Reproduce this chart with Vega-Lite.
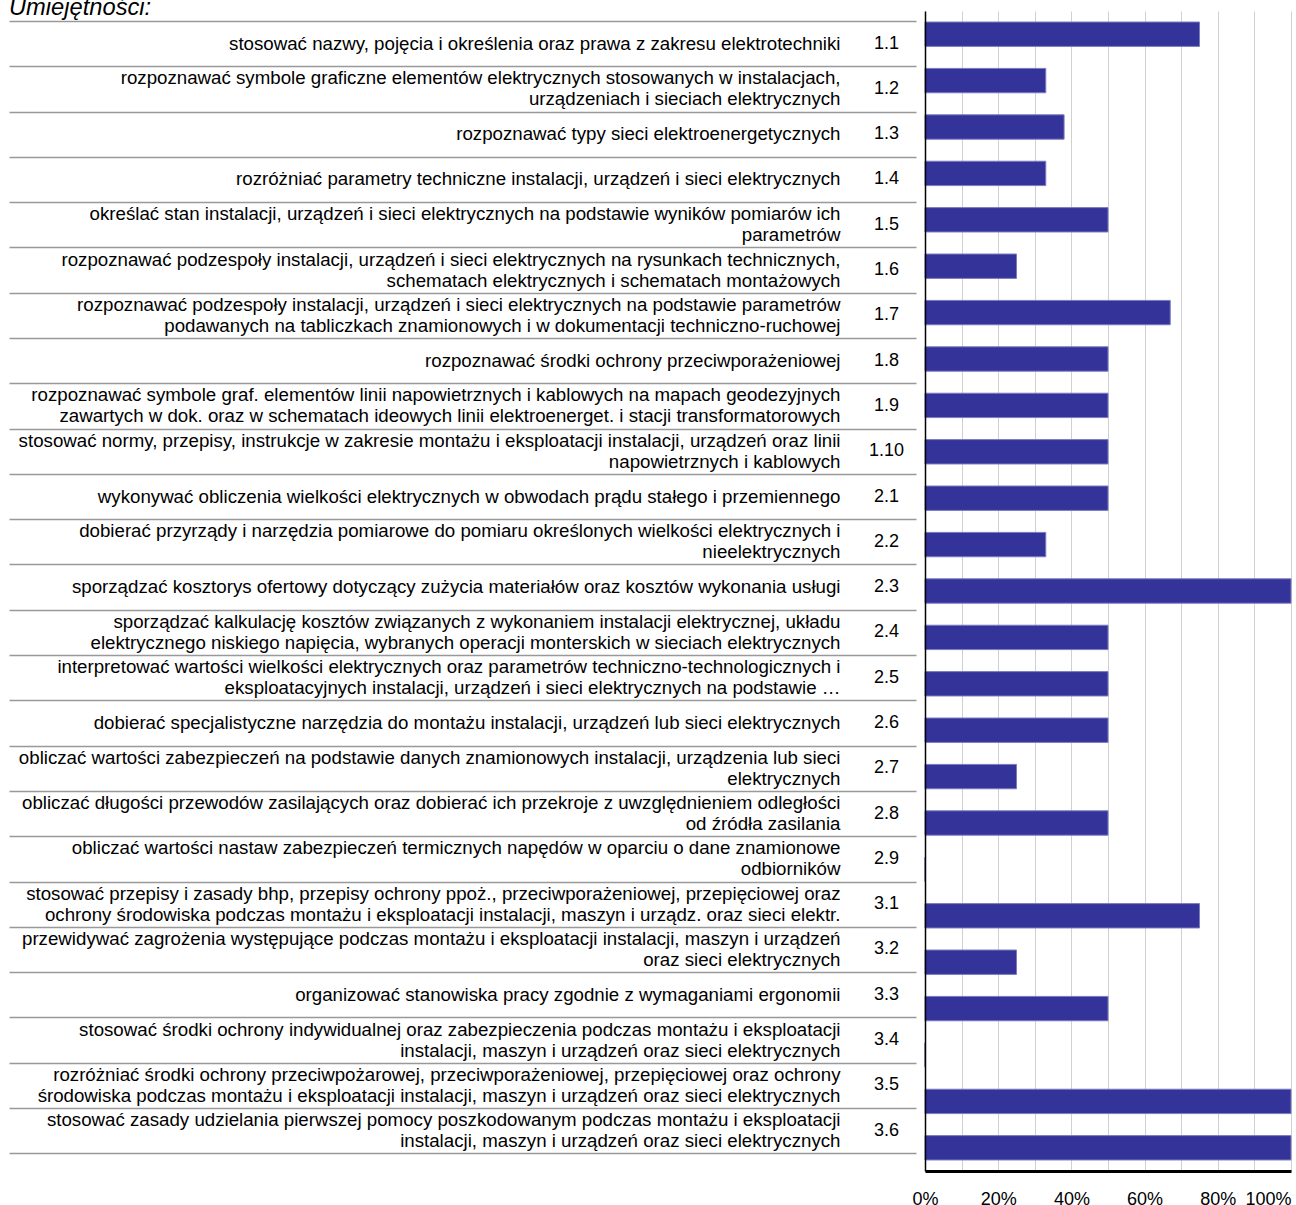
{
  "$schema": "https://vega.github.io/schema/vega-lite/v6.json",
  "autosize": {"type": "none"},
  "width": 366,
  "height": 1160,
  "padding": {"left": 925, "top": 11, "right": 5, "bottom": 34},
  "background": "white",
  "title": {"text": "Umiejętności:", "anchor": "start", "frame": "group", "dx": -916, "orient": "top", "font": "Liberation Sans", "fontSize": 23.7, "fontStyle": "italic", "fontWeight": "normal", "color": "#000000", "baseline": "alphabetic", "offset": -28},
  "data": {"values": [
    {"kod": "1.1", "opis": "stosować nazwy, pojęcia i określenia oraz prawa z zakresu elektrotechniki", "wartosc": 0.75},
    {"kod": "1.2", "opis": "rozpoznawać symbole graficzne elementów elektrycznych stosowanych w instalacjach,\nurządzeniach i sieciach elektrycznych", "wartosc": 0.33},
    {"kod": "1.3", "opis": "rozpoznawać typy sieci elektroenergetycznych", "wartosc": 0.38},
    {"kod": "1.4", "opis": "rozróżniać parametry techniczne instalacji, urządzeń i sieci elektrycznych", "wartosc": 0.33},
    {"kod": "1.5", "opis": "określać stan instalacji, urządzeń i sieci elektrycznych na podstawie wyników pomiarów ich\nparametrów", "wartosc": 0.5},
    {"kod": "1.6", "opis": "rozpoznawać podzespoły instalacji, urządzeń i sieci elektrycznych na rysunkach technicznych,\nschematach elektrycznych i schematach montażowych", "wartosc": 0.25},
    {"kod": "1.7", "opis": "rozpoznawać podzespoły instalacji, urządzeń i sieci elektrycznych na podstawie parametrów\npodawanych na tabliczkach znamionowych i w dokumentacji techniczno-ruchowej", "wartosc": 0.67},
    {"kod": "1.8", "opis": "rozpoznawać środki ochrony przeciwporażeniowej", "wartosc": 0.5},
    {"kod": "1.9", "opis": "rozpoznawać symbole graf. elementów linii napowietrznych i kablowych na mapach geodezyjnych\nzawartych w dok. oraz w schematach ideowych linii elektroenerget. i stacji transformatorowych", "wartosc": 0.5},
    {"kod": "1.10", "opis": "stosować normy, przepisy, instrukcje w zakresie montażu i eksploatacji instalacji, urządzeń oraz linii\nnapowietrznych i kablowych", "wartosc": 0.5},
    {"kod": "2.1", "opis": "wykonywać obliczenia wielkości elektrycznych w obwodach prądu stałego i przemiennego", "wartosc": 0.5},
    {"kod": "2.2", "opis": "dobierać przyrządy i narzędzia pomiarowe do pomiaru określonych wielkości elektrycznych i\nnieelektrycznych", "wartosc": 0.33},
    {"kod": "2.3", "opis": "sporządzać kosztorys ofertowy dotyczący zużycia materiałów oraz kosztów wykonania usługi", "wartosc": 1.0},
    {"kod": "2.4", "opis": "sporządzać kalkulację kosztów związanych z wykonaniem instalacji elektrycznej, układu\nelektrycznego niskiego napięcia, wybranych operacji monterskich w sieciach elektrycznych", "wartosc": 0.5},
    {"kod": "2.5", "opis": "interpretować wartości wielkości elektrycznych oraz parametrów techniczno-technologicznych i\neksploatacyjnych instalacji, urządzeń i sieci elektrycznych na podstawie …", "wartosc": 0.5},
    {"kod": "2.6", "opis": "dobierać specjalistyczne narzędzia do montażu instalacji, urządzeń lub sieci elektrycznych", "wartosc": 0.5},
    {"kod": "2.7", "opis": "obliczać wartości zabezpieczeń na podstawie danych znamionowych instalacji, urządzenia lub sieci\nelektrycznych", "wartosc": 0.25},
    {"kod": "2.8", "opis": "obliczać długości przewodów zasilających oraz dobierać ich przekroje z uwzględnieniem odległości\nod źródła zasilania", "wartosc": 0.5},
    {"kod": "2.9", "opis": "obliczać wartości nastaw zabezpieczeń termicznych napędów w oparciu o dane znamionowe\nodbiorników", "wartosc": 0},
    {"kod": "3.1", "opis": "stosować przepisy i zasady bhp, przepisy ochrony ppoż., przeciwporażeniowej, przepięciowej oraz\nochrony środowiska podczas montażu i eksploatacji instalacji, maszyn i urządz. oraz sieci elektr.", "wartosc": 0.75},
    {"kod": "3.2", "opis": "przewidywać zagrożenia występujące podczas montażu i eksploatacji instalacji, maszyn i urządzeń\noraz sieci elektrycznych", "wartosc": 0.25},
    {"kod": "3.3", "opis": "organizować stanowiska pracy zgodnie z wymaganiami ergonomii", "wartosc": 0.5},
    {"kod": "3.4", "opis": "stosować środki ochrony indywidualnej oraz zabezpieczenia podczas montażu i eksploatacji\ninstalacji, maszyn i urządzeń oraz sieci elektrycznych", "wartosc": 0},
    {"kod": "3.5", "opis": "rozróżniać środki ochrony przeciwpożarowej, przeciwporażeniowej, przepięciowej oraz ochrony\nśrodowiska podczas montażu i eksploatacji instalacji, maszyn i urządzeń oraz sieci elektrycznych", "wartosc": 1.0},
    {"kod": "3.6", "opis": "stosować zasady udzielania pierwszej pomocy poszkodowanym podczas montażu i eksploatacji\ninstalacji, maszyn i urządzeń oraz sieci elektrycznych", "wartosc": 1.0}
  ]},
  "layer": [
    {
      "mark": {"type": "bar", "color": "#333399", "stroke": "#7b7bc0", "strokeWidth": 1},
      "encoding": {
        "y": {"field": "kod", "type": "nominal", "sort": null, "scale": {"type": "band", "paddingInner": 0.475, "paddingOuter": 0.2375}, "axis": null},
        "x": {"field": "wartosc", "type": "quantitative", "scale": {"domain": [0, 1], "nice": false},
          "axis": {"title": null, "values": [0, 0.1, 0.2, 0.3, 0.4, 0.5, 0.6, 0.7, 0.8, 0.9, 1],
            "labelExpr": "round(datum.value*10) % 2 == 0 ? format(datum.value, '.0%') : ''",
            "grid": true, "gridColor": "#d0d0d0", "gridWidth": 1,
            "domain": true, "domainColor": "#000000", "domainWidth": 3,
            "ticks": false, "tickSize": 0, "labelFlush": false, "labelOverlap": false,
            "labelAlign": {"condition": {"test": "datum.value >= 1", "value": "right"}, "value": "center"},
            "labelPadding": 19,
            "labelFont": "Liberation Sans", "labelFontSize": 18, "labelColor": "#000000"}}
      }
    },
    {
      "mark": {"type": "bar", "opacity": 0},
      "encoding": {
        "y": {"field": "kod", "type": "nominal", "sort": null, "scale": {"type": "band", "paddingInner": 0, "paddingOuter": 0.306, "align": 0.36},
          "axis": {"title": null, "orient": "left", "ticks": false, "tickSize": 0, "domain": true, "domainColor": "#000000", "domainWidth": 1.5,
            "labelAlign": "center", "labelBaseline": "middle", "labelPadding": 39, "labelFont": "Liberation Sans", "labelFontSize": 18, "labelColor": "#000000", "zindex": 1}}
      }
    },
    {
      "mark": {"type": "bar", "opacity": 0},
      "encoding": {
        "y": {"field": "opis", "type": "nominal", "sort": null, "scale": {"type": "band", "paddingInner": 0, "paddingOuter": 0.306, "align": 0.36},
          "axis": {"title": null, "orient": "left", "ticks": false, "tickSize": 0, "domain": false,
            "labelExpr": "split(datum.label, '\\n')", "labelAlign": "right", "labelBaseline": "middle",
            "labelOffset": {"condition": {"test": "indexof(datum.value, '\\n') >= 0", "value": -10.5}, "value": 0},
            "labelPadding": 85, "labelLimit": 1000, "labelLineHeight": 21,
            "labelFont": "Liberation Sans", "labelFontSize": 18.7, "labelColor": "#000000"}}
      }
    },
    {
      "mark": {"type": "bar", "opacity": 0},
      "encoding": {
        "y": {"field": "kod", "type": "nominal", "sort": null, "scale": {"type": "band", "paddingInner": 0, "paddingOuter": 0.306, "align": 0.36},
          "axis": {"title": null, "orient": "left", "labels": false, "domain": false, "ticks": true, "tickBand": "extent", "tickSize": 907, "tickColor": "#999999", "tickWidth": 1.5, "offset": 9}}
      }
    }
  ],
  "resolve": {"scale": {"y": "independent"}, "axis": {"y": "independent"}},
  "config": {"view": {"stroke": null}, "font": "Liberation Sans"}
}
